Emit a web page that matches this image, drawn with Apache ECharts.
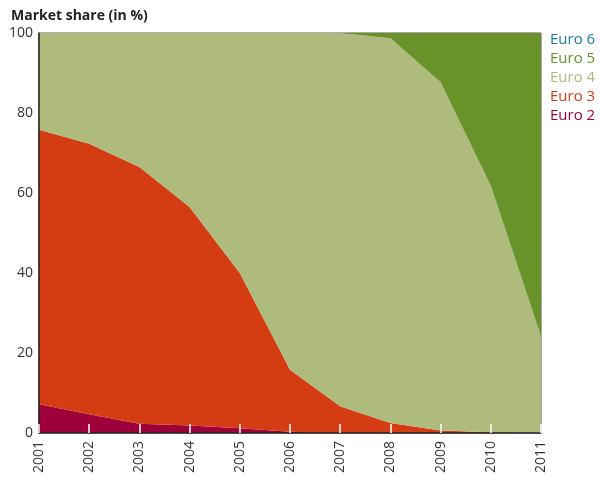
<!DOCTYPE html>
<html>
<head>
<meta charset="utf-8">
<script src="https://cdn.jsdelivr.net/npm/echarts@6/dist/echarts.min.js"></script>
<style>
  html, body { margin: 0; padding: 0; background: #fff; }
  #chart { width: 601px; height: 480px; }
</style>
</head>
<body>
<div id="chart"></div>
<script>
// years on the x axis
const years = ['2001', '2002', '2003', '2004', '2005', '2006', '2007', '2008', '2009', '2010', '2011'];

// market share per emission class (in %), stacked bottom to top
const euro2 = [7.2, 4.7, 2.3, 1.9, 1.2, 0.3, 0, 0, 0, 0, 0];
const euro3 = [68.6, 67.6, 64.2, 54.6, 38.8, 15.5, 6.7, 2.5, 0.6, 0.2, 0];
const euro4 = [24.2, 27.7, 33.5, 43.5, 60, 84.2, 93.3, 96.2, 87.1, 61.6, 24.2];
const euro5 = [0, 0, 0, 0, 0, 0, 0, 1.3, 12.3, 38.2, 75.8];
const euro6 = [0, 0, 0, 0, 0, 0, 0, 0, 0, 0, 0];

const colors = {
  'Euro 6': '#1b7e9e',
  'Euro 5': '#6a922b',
  'Euro 4': '#aebb7d',
  'Euro 3': '#d43d14',
  'Euro 2': '#9e0039'
};

const myChart = echarts.init(document.getElementById('chart'));

function area(name, data) {
  return {
    name: name,
    type: 'line',
    stack: 'share',
    data: data,
    showSymbol: false,
    symbol: 'none',
    lineStyle: { width: 0 },
    itemStyle: { color: colors[name] },
    areaStyle: { color: colors[name], opacity: 1 }
  };
}

const option = {
  animation: false,
  textStyle: { fontFamily: 'Open Sans' },
  title: {
    text: 'Market share (in %)',
    left: 6,
    top: 4,
    textStyle: { fontSize: 14, fontWeight: 'bold', color: '#222', fontFamily: 'Open Sans' }
  },
  legend: {
    orient: 'vertical',
    left: 540,
    top: 27,
    itemWidth: 0,
    itemHeight: 0,
    itemGap: 4,
    selectedMode: false,
    data: ['Euro 6', 'Euro 5', 'Euro 4', 'Euro 3', 'Euro 2'].map(n => ({
      name: n,
      icon: 'rect',
      textStyle: { color: colors[n], fontSize: 15 }
    }))
  },
  grid: {
    left: 39,
    top: 33,
    right: 60,
    bottom: 47,
    show: true,
    borderColor: '#555',
    borderWidth: 1
  },
  xAxis: {
    type: 'category',
    boundaryGap: false,
    data: years,
    z: 3,
    axisLine: { lineStyle: { color: '#222', width: 1.5 } },
    axisTick: { inside: true, length: 9, lineStyle: { color: '#fff', width: 1.5 } },
    axisLabel: { rotate: 90, fontSize: 14, color: '#333', margin: 8 }
  },
  yAxis: {
    type: 'value',
    min: 0,
    max: 100,
    interval: 20,
    z: 3,
    axisLine: { show: true, lineStyle: { color: '#222', width: 1.5 } },
    axisTick: { show: false },
    axisLabel: { fontSize: 14, color: '#333', margin: 6 },
    splitLine: { show: true, lineStyle: { color: '#fff', type: 'dotted', width: 1 } }
  },
  series: [
    area('Euro 2', euro2),
    area('Euro 3', euro3),
    area('Euro 4', euro4),
    area('Euro 5', euro5),
    area('Euro 6', euro6)
  ]
};

myChart.setOption(option);
</script>
</body>
</html>
